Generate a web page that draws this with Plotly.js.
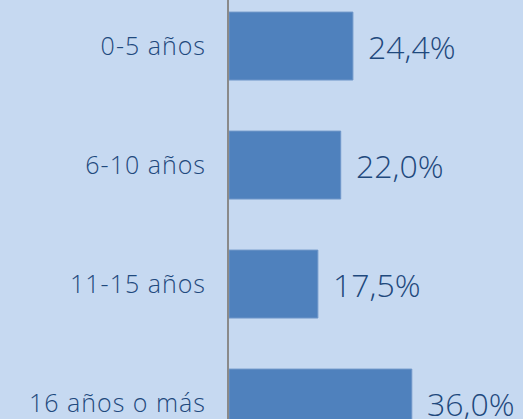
<!DOCTYPE html>
<html><head><meta charset="utf-8">
<script src="https://cdn.plot.ly/plotly-3.0.1.min.js"></script>
<style>html,body{margin:0;padding:0;background:#c6d9f1;}#c{width:523px;height:419px;}
#c .ytick text{letter-spacing:1px;}</style>
</head><body><div id="c"></div>
<script>
const categories = ["0-5 años", "6-10 años", "11-15 años", "16 años o más"];
const values = [24.4, 22.0, 17.5, 36.0];
const valueLabels = ["24,4%", "22,0%", "17,5%", "36,0%"];

const textColor = "#1f497d";
const fontFam = "'Open Sans', Lato, sans-serif";

const trace = {
  type: "bar", orientation: "h",
  x: values, y: categories,
  width: 0.571,
  marker: {color: "#4f81bd", line: {color: "#6f96c9", width: 1}},
  hoverinfo: "none"
};

const annotations = values.map((v, i) => ({
  x: v, y: categories[i], xref: "x", yref: "y",
  text: valueLabels[i], showarrow: false,
  xanchor: "left", yanchor: "middle", xshift: 13, yshift: 0,
  font: {family: fontFam, size: 32, weight: 300, color: textColor}
}));

const layout = {
  width: 523, height: 419,
  margin: {l: 229, r: 0, t: 0, b: 0, pad: 0},
  paper_bgcolor: "#c6d9f1", plot_bgcolor: "#c6d9f1",
  showlegend: false,
  xaxis: {range: [0, 57.9], showgrid: false, zeroline: false, showticklabels: false, showline: false, fixedrange: true},
  yaxis: {
    type: "category", range: [3.134, -0.387],
    showgrid: false, zeroline: false,
    showline: true, linecolor: "#8a8a8a", linewidth: 2,
    ticks: "", ticklabelstandoff: 16,
    tickfont: {family: fontFam, size: 25, weight: 300, color: textColor}
  },
  annotations: annotations
};

Plotly.newPlot("c", [trace], layout, {displayModeBar: false, staticPlot: true});
</script></body></html>
